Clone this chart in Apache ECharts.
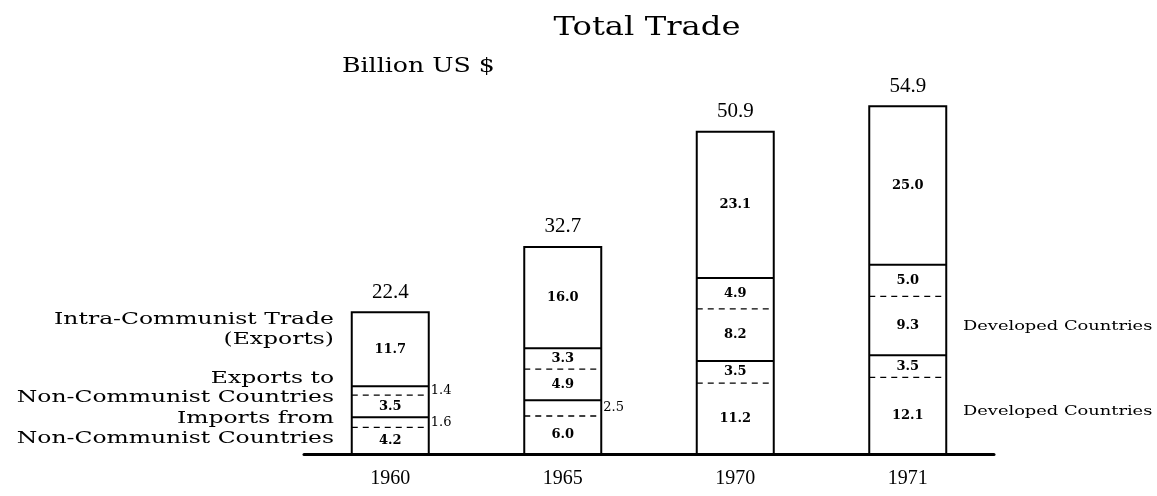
<!DOCTYPE html>
<html>
<head>
<meta charset="utf-8">
<title>Total Trade</title>
<script src="https://cdn.jsdelivr.net/npm/echarts@6/dist/echarts.min.js"></script>
<style>
  html, body { margin: 0; padding: 0; background: #fff; }
  #chart { width: 1157px; height: 496px; }
</style>
</head>
<body>
<div id="chart"></div>
<script>
// categories
const years = ['1960', '1965', '1970', '1971'];
// stack segments, bottom to top, billion US $
const importsDeveloped = [4.2, 6.0, 11.2, 12.1];
const importsOther = [1.6, 2.5, 3.5, 3.5];
const exportsDeveloped = [3.5, 4.9, 8.2, 9.3];
const exportsOther = [1.4, 3.3, 4.9, 5.0];
const intraCommunist = [11.7, 16.0, 23.1, 25.0];
const totals = [22.4, 32.7, 50.9, 54.9];

const BAR_W = 77;
const SERIF = '"DejaVu Serif", serif';
const NUM_FONT = '"Liberation Serif", serif';

const chart = echarts.init(document.getElementById('chart'));

// cumulative tops of each segment, used for the outlines
const outlineData = years.map((y, i) => {
  const c1 = importsDeveloped[i];
  const c2 = c1 + importsOther[i];
  const c3 = c2 + exportsDeveloped[i];
  const c4 = c3 + exportsOther[i];
  const c5 = c4 + intraCommunist[i];
  return [i, c1, c2, c3, c4, c5];
});

// small segments get their number beside the bar
const segment = (name, values) => ({
  name: name,
  type: 'bar',
  stack: 'trade',
  barWidth: BAR_W,
  itemStyle: { color: '#fff' },
  label: {
    show: true,
    position: 'inside',
    color: '#000',
    fontFamily: SERIF,
    fontWeight: 'bold',
    fontSize: 13,
    formatter: p => p.value.toFixed(1)
  },
  data: values.map(v => v < 3 ? { value: v, label: { position: 'right', distance: 2, fontWeight: 'normal', fontSize: 13 } } : v)
});

const sideText = (text, x, y, align, size, sx) => ({
  type: 'text',
  x: x,
  y: y,
  scaleX: sx,
  style: {
    text: text,
    fill: '#000',
    font: size + 'px ' + SERIF,
    align: align,
    verticalAlign: 'middle'
  }
});

const option = {
  backgroundColor: '#fff',
  animation: false,
  grid: { left: 304, right: 163, top: 74, bottom: 42 },
  xAxis: {
    type: 'category',
    data: years,
    axisLine: { lineStyle: { color: '#000', width: 3 } },
    axisTick: { show: false },
    axisLabel: { color: '#000', fontFamily: NUM_FONT, fontSize: 20, margin: 15 }
  },
  yAxis: {
    type: 'value',
    min: 0,
    max: 60,
    show: false
  },
  graphic: [
    sideText('Total Trade', 647, 28, 'center', 26, 1.24),
    sideText('Billion US $', 342, 67, 'left', 20, 1.26),
    sideText('Intra-Communist Trade', 334, 320, 'right', 17, 1.38),
    sideText('(Exports)', 334, 340, 'right', 17, 1.38),
    sideText('Exports to', 334, 379, 'right', 17, 1.38),
    sideText('Non-Communist Countries', 334, 398, 'right', 17, 1.38),
    sideText('Imports from', 334, 419, 'right', 17, 1.38),
    sideText('Non-Communist Countries', 334, 439, 'right', 17, 1.38),
    sideText('Developed Countries', 963, 326, 'left', 13.5, 1.32),
    sideText('Developed Countries', 963, 411, 'left', 13.5, 1.32)
  ],
  series: [
    segment('Imports from developed', importsDeveloped),
    segment('Imports from other', importsOther),
    segment('Exports to developed', exportsDeveloped),
    segment('Exports to other', exportsOther),
    segment('Intra-Communist', intraCommunist),
    {
      type: 'custom',
      data: outlineData,
      encode: { x: 0, y: [1, 2, 3, 4, 5] },
      z: 5,
      renderItem: (params, api) => {
        const i = api.value(0);
        const base = api.coord([i, 0]);
        const x = base[0];
        const half = BAR_W / 2;
        const yAt = k => api.coord([i, api.value(k)])[1];
        const divider = (k, dashed) => ({
          type: 'line',
          shape: { x1: x - half, y1: yAt(k), x2: x + half, y2: yAt(k) },
          style: { stroke: '#000', lineWidth: dashed ? 1.3 : 2, lineDash: dashed ? [6, 5] : null }
        });
        const top = yAt(5);
        return {
          type: 'group',
          children: [
            divider(1, true),
            divider(2, false),
            divider(3, true),
            divider(4, false),
            {
              type: 'rect',
              shape: { x: x - half, y: top, width: BAR_W, height: base[1] - top },
              style: { fill: 'none', stroke: '#000', lineWidth: 2 }
            },
            {
              type: 'text',
              x: x,
              y: top - 20,
              style: {
                text: totals[params.dataIndex].toFixed(1),
                fill: '#000',
                font: '21px ' + NUM_FONT,
                align: 'center',
                verticalAlign: 'middle'
              }
            }
          ]
        };
      }
    }
  ]
};

chart.setOption(option);
</script>
</body>
</html>
